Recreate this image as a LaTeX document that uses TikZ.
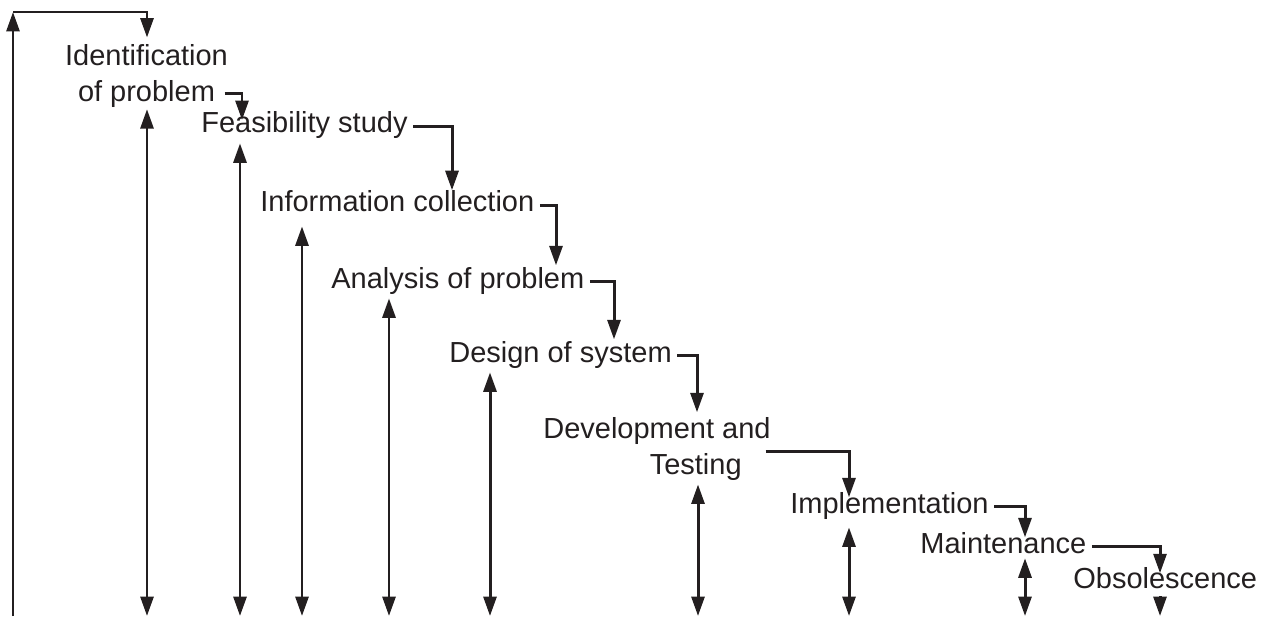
\documentclass[tikz,border=0pt]{standalone}
\usepackage{fontspec}
\setmainfont{Liberation Sans}
\usetikzlibrary{arrows.meta}
\definecolor{ink}{RGB}{35,31,32}
\tikzset{
  stage/.style={anchor=base west, inner sep=0pt, text height=0.72em, text depth=0pt},
  twoline/.style={inner sep=0pt},
  flow/.style={draw=ink, line width=1.7pt, -{Triangle[length=0.39cm,width=0.26cm]}},
  link/.style={draw=ink, line width=1.7pt, {Triangle[length=0.39cm,width=0.26cm]}-{Triangle[length=0.39cm,width=0.26cm]}}
}
\begin{document}
\begin{tikzpicture}[x=0.02cm, y=-0.02cm, font=\fontsize{16.5}{20}\selectfont, text=ink]
\useasboundingbox (0,0) rectangle (1267,618);
% stages
\node[twoline, align=center] (ident) at (146.5,76) {Identification\\of problem};
\node[stage] (feas) at (201,133) {Feasibility study};
\node[stage] (info) at (260,212) {Information collection};
\node[stage] (anal) at (331,288) {Analysis of problem};
\node[stage] (design) at (449,362) {Design of system};
\node[twoline, align=right] (devel) at (657,449) {Development and\\Testing\hspace*{1em}};
\node[stage] (impl) at (790,513) {Implementation};
\node[stage] (maint) at (920,553) {Maintenance};
\node[stage] (obso) at (1073,588) {Obsolescence};
\coordinate (floor) at (0,616);
\coordinate (corner) at (13,12);
% feedback loop
\draw[flow] (floor -| corner) -- (corner);
\draw[flow, shorten >=4pt] (corner) -| (ident.north -| 147,0);
% stage to stage
\draw[flow] ([xshift=-2pt,yshift=8pt]ident.south east) -| (feas.north -| 242,0);
\foreach \from/\to/\x/\gap in {feas/info/452/5pt,info/anal/556/5.5pt,anal/design/614/5.5pt,impl/maint/1025/1.5pt,maint/obso/1160/1pt}
\draw[flow, shorten >=\gap] ([xshift=3pt]\from.east) -| (\to.north -| \x,0);
\draw[flow, shorten >=3pt] ([xshift=3pt]design.east) -| (devel.north -| 697,0);
\draw[flow, shorten >=1.5pt] ([xshift=-3pt,yshift=-1.5pt]devel.east) -| (impl.north -| 849,0);
% returns to the floor
\foreach \n/\x/\gap in {ident/147/1pt,feas/240/5.7pt,info/302/8pt,anal/389/5.7pt,design/490/5.7pt,devel/698/2.3pt,impl/849/8pt,maint/1025/2.8pt}
\draw[link, shorten <=\gap] (\n.south -| \x,0) -- (floor -| \x,0);
\draw[flow, shorten <=4.5pt] (obso.south -| 1160,0) -- (floor -| 1160,0);
\end{tikzpicture}
\end{document}
